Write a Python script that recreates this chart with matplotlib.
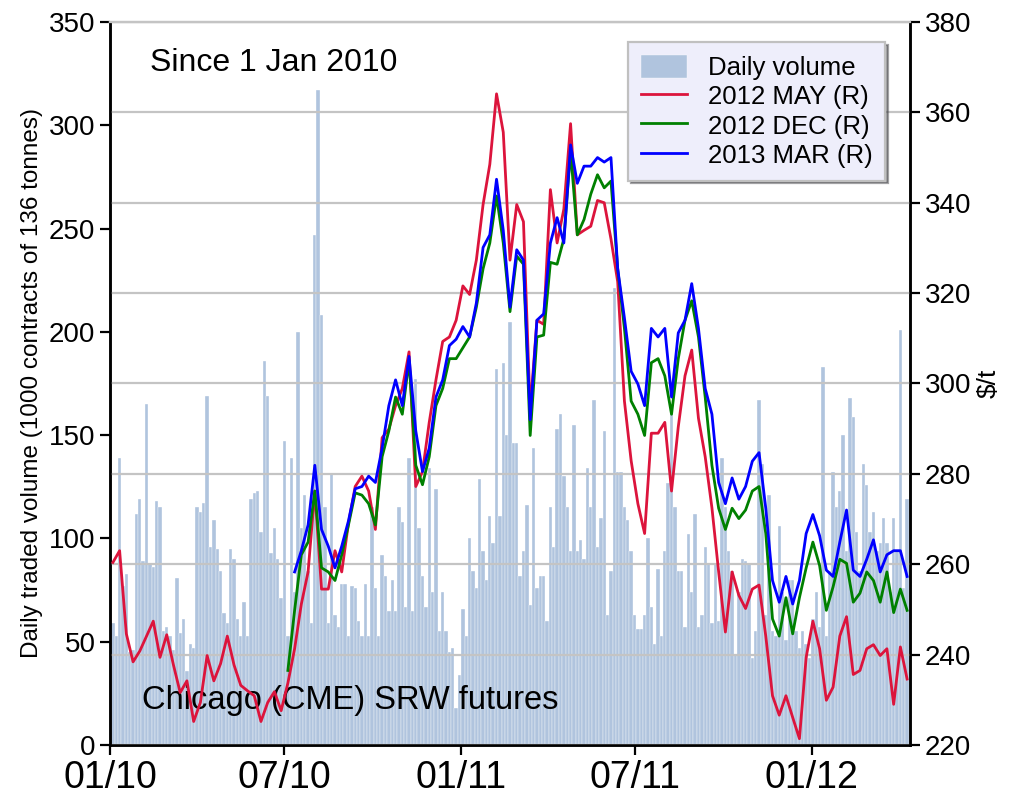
import matplotlib
matplotlib.use("Agg")
import matplotlib.pyplot as plt
import pandas as pd

# ---------------- data ----------------
# Daily traded volume (1000 contracts), sampled every 3.5 days from 4 Jan 2010
volume = [59, 53, 139, 77, 83, 45, 46, 112, 119, 89,
          165, 88, 86, 118, 115, 55, 57, 53, 46, 81,
          54, 61, 36, 49, 47, 115, 113, 117, 169, 96,
          109, 95, 84, 64, 59, 95, 90, 61, 53, 69,
          53, 119, 122, 123, 103, 186, 169, 93, 105, 90,
          71, 147, 53, 139, 74, 200, 105, 121, 84, 59,
          247, 317, 208, 115, 59, 131, 63, 57, 78, 78,
          53, 77, 76, 60, 53, 78, 53, 115, 76, 53,
          92, 82, 65, 80, 65, 115, 108, 67, 139, 65,
          177, 105, 82, 67, 134, 74, 124, 55, 74, 55,
          45, 47, 18, 34, 66, 53, 100, 84, 76, 129,
          94, 80, 111, 98, 182, 111, 185, 150, 205, 146,
          146, 82, 94, 116, 68, 144, 76, 82, 82, 60,
          115, 96, 153, 160, 130, 115, 94, 155, 94, 99,
          90, 134, 115, 167, 96, 110, 152, 63, 84, 221,
          132, 132, 115, 109, 94, 63, 56, 56, 63, 100,
          67, 49, 85, 53, 94, 127, 164, 115, 84, 84,
          57, 102, 74, 112, 57, 63, 96, 88, 59, 88,
          60, 139, 115, 94, 84, 44, 74, 90, 89, 88,
          42, 55, 167, 136, 63, 121, 55, 53, 106, 74,
          51, 80, 80, 55, 47, 55, 49, 42, 61, 74,
          57, 183, 53, 84, 132, 115, 123, 150, 94, 168,
          159, 103, 84, 136, 126, 103, 113, 94, 98, 110,
          98, 74, 110, 94, 201, 76, 119]

# Weekly prices, $/t, from 4 Jan 2010
may2012 = [260.4, 263.0, 244.6, 238.4, 240.8, 244.1, 247.4, 239.4, 244.4, 237.7,
           231.6, 234.2, 225.2, 229.4, 239.8, 234.2, 238.0, 244.1, 237.7, 233.2,
           232.0, 230.9, 225.2, 229.4, 231.8, 227.6, 233.7, 241.3, 251.2, 258.3,
           276.2, 254.5, 254.5, 263.0, 258.3, 269.1, 277.2, 279.5, 276.2, 267.7,
           288.0, 289.9, 295.1, 298.9, 307.0, 277.2, 280.5, 291.4, 300.8, 309.3,
           310.3, 314.0, 321.6, 319.7, 327.3, 339.6, 348.5, 364.1, 355.6, 327.3,
           339.6, 335.8, 294.0, 314.0, 313.1, 342.9, 331.1, 338.6, 357.5, 332.9,
           333.9, 334.8, 340.5, 340.0, 332.0, 322.5, 296.1, 282.9, 273.4, 266.8,
           289.0, 289.0, 291.4, 276.2, 290.4, 301.7, 307.4, 292.3, 283.8, 272.5,
           258.3, 245.0, 258.3, 253.1, 250.2, 254.5, 255.4, 244.1, 230.9, 226.6,
           230.9, 226.1, 221.4, 239.4, 247.4, 241.3, 229.9, 232.8, 244.1, 248.4,
           235.6, 236.5, 241.3, 242.2, 239.8, 241.3, 229.0, 241.7, 234.6]

# Weekly prices, $/t, from 5 Jul 2010
dec2012 = [236.5, 249.8, 262.1, 264.9, 276.2, 259.2, 258.3, 256.4, 262.1, 268.7,
           275.8, 275.3, 273.4, 268.7, 283.8, 289.5, 297.0, 293.2, 305.1, 281.9,
           277.6, 283.8, 295.1, 298.9, 305.5, 305.5, 307.9, 310.3, 316.9, 325.4,
           331.1, 341.5, 331.1, 315.9, 328.2, 326.4, 288.5, 310.3, 310.7, 326.8,
           326.4, 332.0, 351.4, 332.9, 336.3, 341.9, 346.2, 343.3, 344.8, 325.4,
           312.2, 296.1, 293.2, 288.5, 304.6, 305.5, 301.7, 293.2, 305.5, 314.0,
           318.3, 310.3, 297.0, 281.9, 272.4, 267.7, 272.4, 270.1, 272.0, 276.2,
           277.2, 266.8, 247.9, 244.1, 252.6, 244.6, 252.6, 259.2, 264.9, 259.7,
           249.8, 255.0, 261.1, 260.2, 251.6, 253.6, 258.3, 256.4, 251.6, 258.3,
           249.3, 254.5, 249.8]

# Weekly prices, $/t, from 12 Jul 2010
mar2013 = [258.3, 263.0, 268.7, 281.9, 267.7, 264.0, 259.2, 264.0, 269.6, 276.7,
           277.2, 279.5, 278.1, 285.7, 295.1, 300.8, 295.1, 306.0, 289.5, 280.5,
           285.7, 297.0, 300.8, 308.4, 309.8, 312.6, 310.3, 317.8, 330.1, 332.9,
           345.2, 333.9, 316.9, 329.6, 327.3, 292.0, 314.0, 315.4, 331.1, 336.7,
           331.1, 352.8, 344.3, 348.1, 348.1, 350.0, 349.0, 350.0, 325.4, 314.5,
           302.7, 299.9, 295.1, 312.2, 310.3, 312.2, 297.0, 311.2, 314.0, 322.1,
           312.2, 298.9, 293.2, 278.1, 273.4, 279.1, 274.4, 277.2, 282.8, 284.7,
           272.4, 256.4, 251.6, 257.3, 251.2, 256.4, 266.8, 271.0, 266.3, 258.7,
           257.3, 264.9, 272.0, 258.7, 257.3, 261.1, 265.4, 258.3, 262.1, 263.0,
           263.0, 257.3]

tick_labels = ["01/10", "07/10", "01/11", "07/11", "01/12"]
tick_dates = ["2010-01-01", "2010-07-01", "2011-01-01", "2011-07-01", "2012-01-01"]

vol_dates = pd.date_range("2010-01-04", periods=len(volume), freq="84h")
may_dates = pd.date_range("2010-01-04", periods=len(may2012), freq="7D")
dec_dates = pd.date_range("2010-07-05", periods=len(dec2012), freq="7D")
mar_dates = pd.date_range("2010-07-12", periods=len(mar2013), freq="7D")

# ---------------- figure ----------------
fig = plt.figure(figsize=(10.19, 7.95), dpi=100)
ax = fig.add_axes([110/1019, 1-745/795, 800/1019, 723/795])
ax2 = ax.twinx()

font = "Liberation Sans"
narrow = ["Liberation Sans Narrow", "Liberation Sans"]

ax.bar(vol_dates, volume, width=3.5, color="#b0c4de", edgecolor="white",
       linewidth=0.25, align="center", zorder=1, label="Daily volume")
ax.set_ylim(0, 350)
ax.set_yticks(range(0, 351, 50))

ax2.plot(may_dates, may2012, color="#dc143c", lw=2.0, label="2012 MAY (R)", zorder=3)
ax2.plot(dec_dates, dec2012, color="#008000", lw=2.0, label="2012 DEC (R)", zorder=4)
ax2.plot(mar_dates, mar2013, color="#0000ff", lw=2.0, label="2013 MAR (R)", zorder=5)
ax2.set_ylim(220, 380)
ax2.set_yticks(range(220, 381, 20))
ax2.grid(True, axis="y", color="#c4c4c4", lw=1.6, zorder=0)
ax2.set_axisbelow(True)

ax.set_xlim(pd.Timestamp("2010-01-01"), pd.Timestamp("2012-04-12"))
ax.set_xticks(pd.to_datetime(tick_dates))
ax.set_xticklabels(tick_labels, family=narrow, fontsize=27)

for a in (ax, ax2):
    a.tick_params(axis="both", direction="out", length=7, width=1.6, color="black")
    for s in ("left", "right", "bottom"):
        a.spines[s].set_linewidth(1.8)
        a.spines[s].set_color("black")
    a.spines["top"].set_color("#c4c4c4")
    a.spines["top"].set_linewidth(1.6)
    a.patch.set_visible(False)

for lab in ax.get_yticklabels() + ax2.get_yticklabels():
    lab.set_family(font)
    lab.set_fontsize(20)

ax.set_ylabel("Daily traded volume (1000 contracts of 136 tonnes)", family=font,
              fontsize=17.5, labelpad=4)
ax2.set_ylabel("$/t", family=font, fontsize=19, rotation=90, labelpad=4)

ax.text(0.05, 0.943, "Since 1 Jan 2010", transform=ax.transAxes, family=font,
        fontsize=23, va="center", ha="left", zorder=10)
ax.text(0.04, 0.062, "Chicago (CME) SRW futures", transform=ax.transAxes,
        family=font, fontsize=23.5, va="center", ha="left", zorder=10)

h1, l1 = ax.get_legend_handles_labels()
h2, l2 = ax2.get_legend_handles_labels()
leg = ax2.legend(h1 + h2, l1 + l2, loc="upper right", bbox_to_anchor=(0.985, 0.99),
                 prop={"family": font, "size": 18.5}, frameon=True, fancybox=False,
                 shadow=True, handlelength=1.8, handleheight=1.0, borderpad=0.5,
                 labelspacing=0.15, handletextpad=0.8)
leg.get_frame().set_facecolor("#eeeefb")
leg.get_frame().set_edgecolor("#c0c0c0")
leg.get_frame().set_linewidth(1.6)
leg.set_zorder(20)
leg.get_frame().set_alpha(1.0)

fig.savefig("out.png", dpi=100)
